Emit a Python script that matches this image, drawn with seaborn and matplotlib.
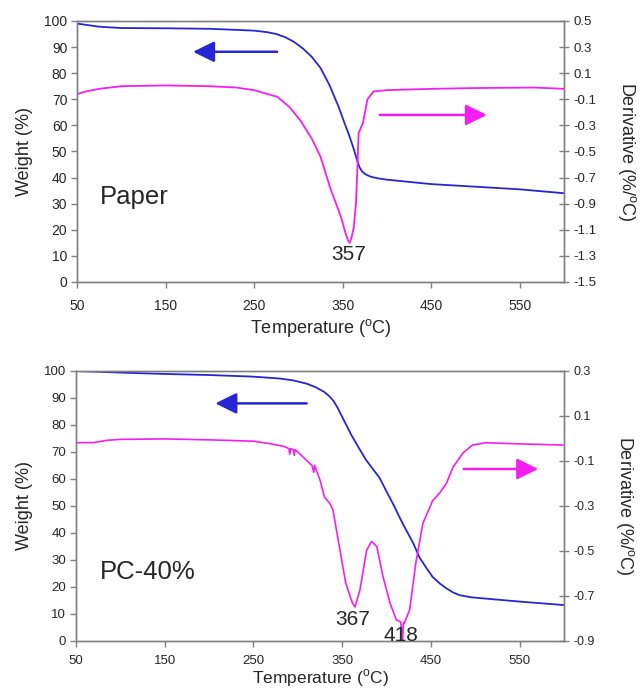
import numpy as np
import pandas as pd
import matplotlib
matplotlib.use("Agg")
import matplotlib.pyplot as plt
import seaborn as sns

# ---------------- data ----------------
# Paper: weight (%)
paper_wt_temp = [50, 75, 100, 150, 200, 250, 265, 275, 285, 295, 305, 315, 325, 335, 345,
                 352, 357, 362, 366, 369, 372, 376, 382, 390, 400, 450, 500, 550, 600]
paper_wt = [99, 97.8, 97.3, 97.2, 97.0, 96.3, 95.7, 95.0, 93.8, 92.0, 89.5, 86.3, 82.0, 75.5,
            67.5, 61.0, 56.5, 51.5, 47.0, 44.0, 42.3, 41.2, 40.3, 39.7, 39.2, 37.5, 36.5,
            35.5, 34.0]
# Paper: derivative (%/C)
paper_dtg_temp = [50, 60, 75, 100, 150, 200, 230, 250, 265, 276, 290, 302, 315, 325, 336,
                  348, 353, 356, 358, 360, 362.6, 365, 366.7, 368, 373, 378, 385, 400, 450,
                  500, 566, 600]
paper_dtg = [-0.06, -0.04, -0.02, 0.0, 0.006, 0.0, -0.01, -0.03, -0.06, -0.08, -0.16, -0.26,
             -0.40, -0.54, -0.78, -1.0, -1.12, -1.18, -1.2, -1.16, -1.08, -0.9, -0.62, -0.36,
             -0.28, -0.10, -0.04, -0.03, -0.02, -0.014, -0.01, -0.02]

# PC-40%: weight (%)
pc_wt_temp = [50, 100, 150, 200, 250, 280, 295, 310, 320, 330, 335, 340, 345, 350, 360, 367,
              377, 385, 392, 399, 407, 418, 430, 437, 445, 452, 460, 467, 475, 482, 495, 505,
              550, 600]
pc_wt = [100, 99.4, 98.9, 98.5, 97.9, 97.2, 96.5, 95.3, 94.0, 92.2, 90.8, 89.0, 86.3, 83.0,
         76.5, 72.5, 67.0, 63.5, 60.5, 56.0, 51.0, 43.6, 36.3, 31.0, 27.0, 23.7, 21.3, 19.6,
         18.0, 17.0, 16.2, 15.9, 14.6, 13.3]
# PC-40%: derivative (%/C)
pc_dtg_temp = [50, 70, 85, 100, 150, 200, 250, 270, 285, 290, 291, 292, 295, 296, 297, 300,
               316, 318, 319, 325, 330, 336, 339.6, 347.5, 354, 361.6, 364.5, 370, 377.6, 383,
               389, 396, 404, 411, 416, 418, 419, 420, 426, 433, 441, 452, 460, 467.5, 475,
               486, 497, 512, 550, 599]
pc_dtg = [-0.019, -0.018, -0.008, -0.004, -0.002, -0.006, -0.012, -0.024, -0.036, -0.045,
          -0.07, -0.045, -0.05, -0.075, -0.05, -0.06, -0.12, -0.15, -0.12, -0.185, -0.26,
          -0.288, -0.318, -0.496, -0.643, -0.732, -0.749, -0.673, -0.496, -0.458, -0.48,
          -0.614, -0.732, -0.806, -0.815, -0.9, -0.82, -0.821, -0.762, -0.553, -0.377,
          -0.276, -0.242, -0.199, -0.127, -0.065, -0.029, -0.019, -0.024, -0.029]

x_ticks = [50, 150, 250, 350, 450, 550]
left_ticks = [0, 10, 20, 30, 40, 50, 60, 70, 80, 90, 100]
paper_right_ticks = [-1.5, -1.3, -1.1, -0.9, -0.7, -0.5, -0.3, -0.1, 0.1, 0.3, 0.5]
pc_right_ticks = [-0.9, -0.7, -0.5, -0.3, -0.1, 0.1, 0.3]

# ---------------- style ----------------
sns.set_style("white")
plt.rcParams["font.family"] = ["Liberation Sans", "DejaVu Sans"]
plt.rcParams["mathtext.fontset"] = "custom"
plt.rcParams["mathtext.rm"] = "Liberation Sans"

BLUE = "#2626d6"
MAG = "#f51ef0"
GREY = "#808080"

fig = plt.figure(figsize=(6.42, 6.92), dpi=100)
ax_top = fig.add_axes([0.120, 0.5925, 0.7585, 0.3772])
ax_bot = fig.add_axes([0.1184, 0.0737, 0.7601, 0.3902])

xlabel = r"Temperature ($^{\mathrm{o}}$C)"


def style_axes(ax, ax2, rticks, ylim2, fs, xpad, xlabelpad):
    ax.set_xlim(50, 600)
    ax.set_ylim(0, 100)
    ax2.set_ylim(*ylim2)
    ax.set_xticks(x_ticks)
    ax.set_yticks(left_ticks)
    ax2.set_yticks(rticks)
    ax2.set_yticklabels([f"{t:.1f}" for t in rticks])
    for a in (ax, ax2):
        for s in a.spines.values():
            s.set_color(GREY)
            s.set_linewidth(1.0)
    ax.tick_params(axis="both", direction="out", length=4, width=1, color=GREY,
                   labelsize=fs, pad=3, left=True, bottom=True)
    ax.tick_params(axis="x", pad=xpad)
    ax2.tick_params(axis="y", direction="inout", length=7, width=1, color=GREY,
                    labelsize=fs - 0.5, pad=3, right=True)
    ax.set_xlabel(xlabel, fontsize=13, labelpad=xlabelpad)
    ax.set_ylabel("Weight (%)", fontsize=13, labelpad=8)
    ax2.set_ylabel("Derivative (%/$^{\mathrm{o}}$C)", fontsize=13, rotation=270,
                   labelpad=30)


def arrow(ax, tail, tip, color):
    ax.annotate("", xy=tip, xytext=tail,
                arrowprops=dict(arrowstyle="-|>,head_length=0.65,head_width=0.32",
                                color=color, lw=1.8, mutation_scale=20,
                                shrinkA=0, shrinkB=0))


# ---------------- top: Paper ----------------
ax2_top = ax_top.twinx()
sns.lineplot(x=paper_wt_temp, y=paper_wt, ax=ax_top, color=BLUE, lw=1.3)
sns.lineplot(x=paper_dtg_temp, y=paper_dtg, ax=ax2_top, color=MAG, lw=1.3)
style_axes(ax_top, ax2_top, paper_right_ticks, (-1.5, 0.5), 10, 8, 3)
arrow(ax_top, (276, 88.2), (181, 88.2), BLUE)
arrow(ax_top, (392, 64), (513, 64), MAG)
ax_top.text(76, 32.6, "Paper", fontsize=18.5, ha="left", va="center")
ax2_top.text(357, -1.29, "357", fontsize=15, ha="center", va="center")

# ---------------- bottom: PC-40% ----------------
ax2_bot = ax_bot.twinx()
sns.lineplot(x=pc_wt_temp, y=pc_wt, ax=ax_bot, color=BLUE, lw=1.3)
sns.lineplot(x=pc_dtg_temp, y=pc_dtg, ax=ax2_bot, color=MAG, lw=1.2)
style_axes(ax_bot, ax2_bot, pc_right_ticks, (-0.9, 0.3), 9.5, 6, 0)
ax_bot.xaxis.label.set_fontsize(12.5)
arrow(ax_bot, (310, 88), (207, 88), BLUE)
arrow(ax_bot, (487, 63.7), (571, 63.7), MAG)
ax_bot.text(77, 25.5, "PC-40%", fontsize=18.5, ha="left", va="center")
ax2_bot.text(362, -0.806, "367", fontsize=15, ha="center", va="center")
ax2_bot.text(416, -0.874, "418", fontsize=15, ha="center", va="center", clip_on=False)

fig.savefig("out.png", dpi=100)
